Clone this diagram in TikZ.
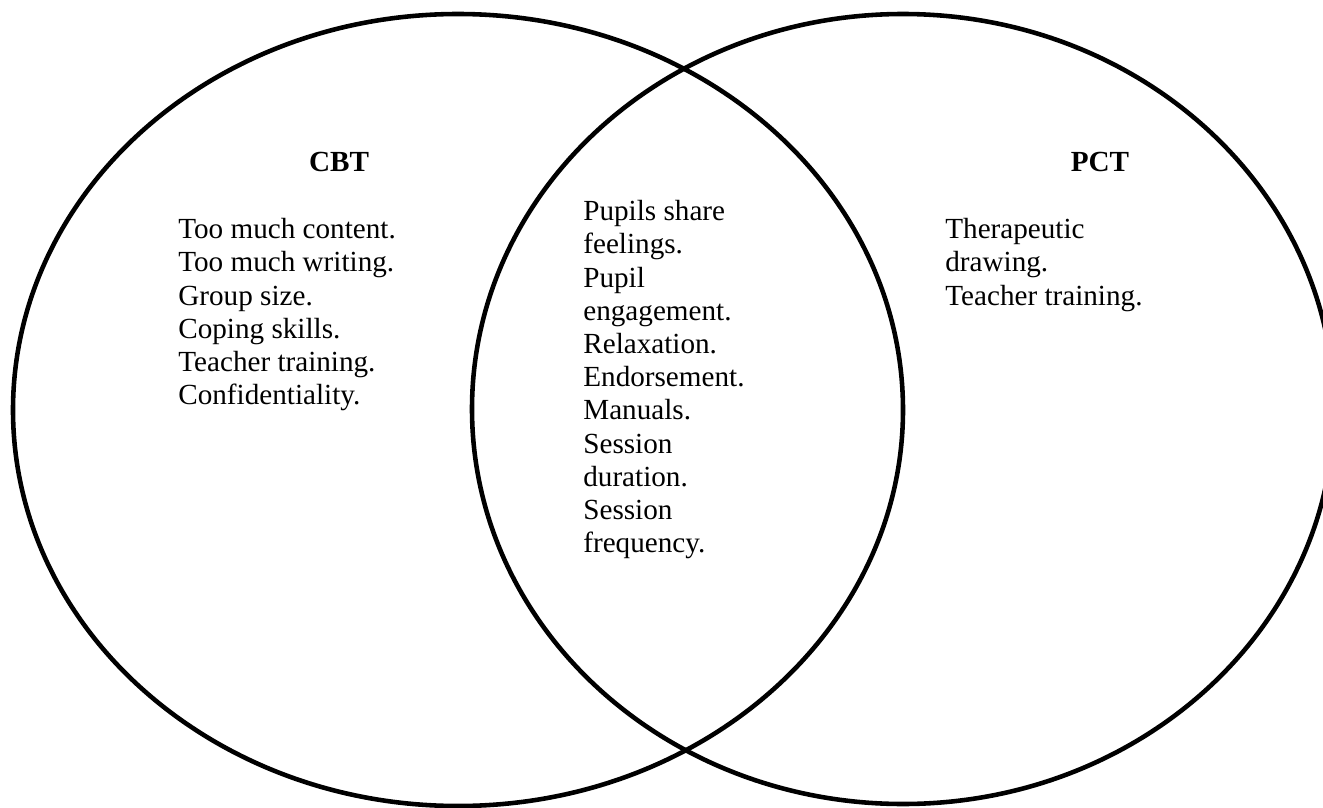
\documentclass[tikz,border=0pt]{standalone}
\usepackage{fontspec}
\setmainfont{Liberation Serif}
\usepackage{tikz}
\usetikzlibrary{positioning}
\definecolor{VennInk}{HTML}{000000}

\tikzset{
  venn/.style={draw=VennInk,line width=2.6pt},
  head/.style={font=\fontsize{16.6}{18.9}\selectfont\bfseries,inner sep=0pt},
  items/.style={font=\fontsize{16.6}{18.9}\selectfont,align=left,anchor=north west,inner sep=0pt}
}

\begin{document}
\begin{tikzpicture}[x=0.02cm,y=-0.02cm]
  \useasboundingbox (0,0) rectangle (1323,808);
  % the two sets
  \draw[venn] (458,410) ellipse [x radius=445,y radius=396];
  \draw[venn] (903,409) ellipse [x radius=431,y radius=395];
  % headings
  \node[head] (cbt) at (339,162) {CBT};
  \node[head] (pct) at (1100,162) {PCT};
  % lists
  \node[items] (cbtlist) at (178,218) {Too much content.\\Too much writing.\\Group size.\\Coping skills.\\Teacher training.\\Confidentiality.};
  \node[items] (both) at (583,200) {Pupils share\\feelings.\\Pupil\\engagement.\\Relaxation.\\Endorsement.\\Manuals.\\Session\\duration.\\Session\\frequency.};
  \node[items] (pctlist) at (945,218) {Therapeutic\\drawing.\\Teacher training.};
\end{tikzpicture}
\end{document}
